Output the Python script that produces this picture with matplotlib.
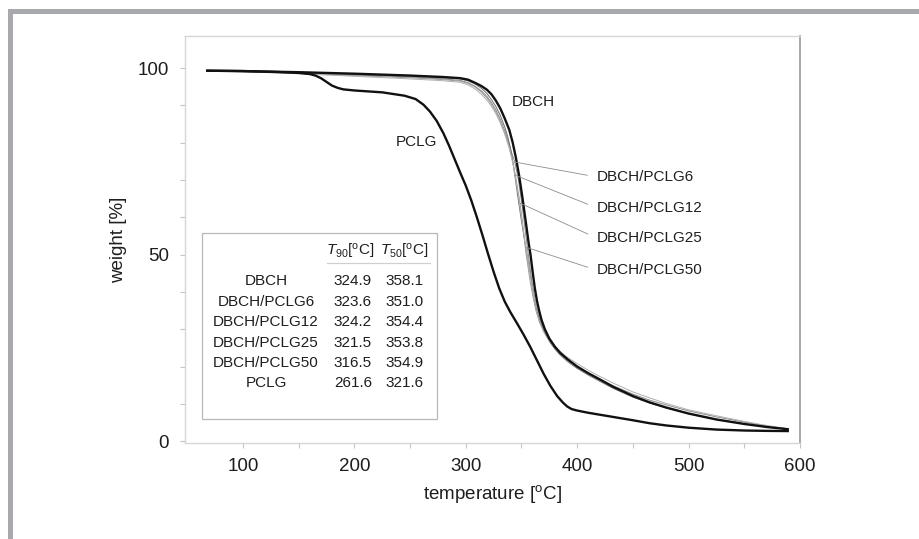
import numpy as np
import matplotlib.pyplot as plt
from matplotlib.patches import Rectangle

plt.rcParams['font.family'] = ['Liberation Sans', 'DejaVu Sans']
plt.rcParams['mathtext.fontset'] = 'custom'
plt.rcParams['mathtext.rm'] = 'Liberation Sans'
plt.rcParams['mathtext.it'] = 'Liberation Sans:italic'

# TGA curves: temperature [oC] / weight [%]
t_dbch = [68, 100, 150, 200, 250, 280, 295, 302, 308, 314, 319, 323, 327, 331, 335, 339, 342,
          345, 348, 351, 354, 356.5, 358.1, 360, 362, 364, 366, 368, 371, 375, 380, 385, 392,
          400, 410, 420, 432, 450, 465, 480, 500, 525, 550, 570, 589]
w_dbch = [99.3, 99.2, 98.9, 98.5, 98.0, 97.6, 97.3, 96.9, 96.1, 95.2, 94.2, 93.0, 91.3, 89.2, 86.5, 83.5, 80.2,
          76.0, 71.0, 65.0, 58.5, 53.0, 50.0, 45.5, 41.0, 37.5, 34.8, 32.5, 30.0, 27.5, 25.3, 23.6, 21.8,
          20.0, 18.2, 16.6, 14.6, 12.1, 10.4, 9.0, 7.4, 5.8, 4.6, 3.8, 3.2]

t_p6 = [68, 100, 150, 200, 250, 280, 295, 302, 308, 314, 319, 323, 327, 331, 335, 338, 341,
        344, 347, 350, 353, 355.5, 357.5, 359.5, 361.5, 364, 367, 371, 375, 380, 385, 392,
        400, 410, 420, 432, 450, 465, 480, 500, 525, 550, 570, 589]
w_p6 = [99.3, 99.1, 98.7, 98.2, 97.6, 97.1, 96.7, 96.1, 95.2, 93.9, 92.4, 90.8, 88.8, 86.3, 83.2, 80.5, 77.5,
        74.8, 70.5, 64.5, 57.5, 51.5, 47.0, 42.5, 38.5, 35.0, 32.0, 29.3, 27.2, 25.1, 23.4, 21.6,
        19.9, 18.2, 16.7, 14.9, 12.6, 11.0, 9.7, 8.1, 6.5, 5.1, 4.1, 3.3]

t_p12 = [68, 100, 150, 200, 250, 280, 295, 302, 308, 314, 319, 323, 327, 331, 335, 338, 341,
         344, 347, 350, 353, 355, 357.5, 360, 362.5, 365, 368, 372, 376, 380, 385, 392,
         400, 410, 420, 432, 450, 465, 480, 500, 525, 550, 570, 589]
w_p12 = [99.3, 99.2, 98.8, 98.3, 97.8, 97.4, 97.1, 96.6, 95.8, 94.6, 93.2, 91.6, 89.7, 87.3, 84.2, 81.3, 77.3,
         71.3, 65.0, 59.0, 53.5, 50.0, 45.5, 41.0, 37.0, 34.0, 31.3, 28.5, 26.3, 24.7, 23.0, 21.2,
         19.5, 17.7, 16.1, 14.2, 11.8, 10.2, 8.9, 7.3, 5.8, 4.6, 3.8, 3.2]

t_p25 = [68, 100, 150, 200, 250, 280, 295, 302, 308, 314, 319, 323, 327, 331, 335, 339, 342,
         345, 348.7, 351, 352.5, 354, 356, 358, 360.5, 363, 366, 370, 375, 380, 385, 392,
         400, 410, 420, 432, 450, 465, 480, 500, 525, 550, 570, 589]
w_p25 = [99.3, 99.1, 98.6, 98.0, 97.4, 96.9, 96.5, 95.9, 95.0, 93.6, 92.0, 90.3, 88.2, 85.6, 82.5, 78.8, 75.2,
         70.5, 63.8, 58.5, 54.5, 50.5, 46.5, 42.5, 38.5, 35.0, 32.0, 29.3, 26.8, 24.8, 23.1, 21.2,
         19.5, 17.8, 16.2, 14.3, 11.9, 10.3, 9.0, 7.4, 5.9, 4.7, 3.9, 3.2]

t_p50 = [68, 100, 150, 200, 250, 280, 295, 302, 308, 314, 319, 323, 327, 331, 335, 339, 343,
         347, 350.5, 354, 356.5, 359, 361.5, 364.5, 368, 372, 377, 383, 390,
         400, 410, 420, 432, 450, 465, 480, 500, 525, 550, 570, 589]
w_p50 = [99.3, 99.0, 98.5, 97.8, 97.1, 96.6, 96.2, 95.5, 94.5, 93.0, 91.4, 89.8, 87.8, 85.3, 82.3, 78.6, 73.5,
         66.5, 59.0, 52.0, 47.0, 42.5, 38.5, 34.8, 31.6, 29.0, 26.6, 24.5, 22.7,
         20.8, 19.0, 17.4, 15.6, 13.2, 11.6, 10.1, 8.4, 6.8, 5.3, 4.2, 3.3]

t_pclg = [68, 100, 130, 150, 160, 165, 170, 175, 180, 185, 190, 200, 225, 245, 255, 262, 268,
          274, 280, 285, 290, 295, 300, 305, 310, 315, 320, 325, 330, 335, 340, 346, 352,
          358, 364, 370, 376, 382, 387, 391, 395, 400, 410, 420, 432, 450, 465, 480, 500,
          525, 550, 570, 589]
w_pclg = [99.3, 99.2, 98.95, 98.7, 98.4, 98.0, 97.3, 96.3, 95.3, 94.7, 94.3, 94.0, 93.5, 92.6, 91.7, 90.2, 88.3,
          85.8, 82.5, 79.2, 75.6, 72.0, 68.5, 64.5, 60.0, 55.2, 50.2, 45.4, 41.0, 37.4, 34.6, 31.6, 28.5,
          25.2, 21.6, 18.0, 14.8, 12.1, 10.4, 9.3, 8.6, 8.2, 7.6, 7.1, 6.5, 5.6, 4.8, 4.2, 3.6,
          3.1, 2.85, 2.75, 2.7]

# inset table
sample_names = ['DBCH', 'DBCH/PCLG6', 'DBCH/PCLG12', 'DBCH/PCLG25', 'DBCH/PCLG50', 'PCLG']
t90 = ['324.9', '323.6', '324.2', '321.5', '316.5', '261.6']
t50 = ['358.1', '351.0', '354.4', '353.8', '354.9', '321.6']

fig = plt.figure(figsize=(9.19, 5.39), dpi=100)
ax = fig.add_axes([0.2013, 0.1781, 0.6692, 0.7551])

thin = [(t_p6, w_p6, '#8a8a8a'), (t_p12, w_p12, '#6e6e6e'),
        (t_p25, w_p25, '#9a9a9a'), (t_p50, w_p50, '#b0b0b0')]
for t, w, c in thin:
    ax.plot(t, w, color=c, lw=0.7, zorder=2, solid_joinstyle='round')
ax.plot(t_dbch, w_dbch, color='#111111', lw=1.7, zorder=3, solid_joinstyle='round')
ax.plot(t_pclg, w_pclg, color='#111111', lw=1.7, zorder=3, solid_joinstyle='round')

ax.set_xlim(48, 600)
ax.set_ylim(-0.5, 108.6)
ax.set_xticks(np.arange(100, 601, 100))
ax.set_xticks(np.arange(150, 600, 100), minor=True)
ax.set_yticks([0, 50, 100])
ax.set_yticks(np.arange(10, 100, 10), minor=True)
ax.tick_params(which='both', direction='out', color='#c4c4c4', length=3.5, width=0.8,
               labelsize=13.5, labelcolor='#1e1e1e')
ax.tick_params(axis='x', pad=7)
ax.tick_params(axis='y', pad=8)
for side in ['left', 'top', 'bottom']:
    ax.spines[side].set_color('#d6d6d6')
    ax.spines[side].set_linewidth(1.0)
ax.spines['right'].set_color('#a0a0a0')
ax.spines['right'].set_linewidth(1.3)

ax.set_xlabel(r'temperature [$^{\mathrm{o}}$C]', fontsize=13.5, color='#1e1e1e', labelpad=6)
ax.set_ylabel('weight [%]', fontsize=13.5, color='#1e1e1e', labelpad=8)

# curve labels
ax.text(361, 90.9, 'DBCH', fontsize=11, color='#1e1e1e', ha='center', va='center')
ax.text(256, 80.2, 'PCLG', fontsize=11, color='#1e1e1e', ha='center', va='center')
blend_labels = ['DBCH/PCLG6', 'DBCH/PCLG12', 'DBCH/PCLG25', 'DBCH/PCLG50']
label_y = [70.8, 62.5, 54.4, 45.8]
touch = [(344.2, 74.8), (344.2, 71.3), (348.7, 63.8), (354.0, 52.0)]
for name, ly, xy in zip(blend_labels, label_y, touch):
    ax.annotate(name, xy=xy, xytext=(417.8, ly), fontsize=11, color='#1e1e1e',
                ha='left', va='center',
                arrowprops=dict(arrowstyle='-', color='#8c8c8c', lw=0.6,
                                relpos=(0, 0.5), shrinkA=5, shrinkB=0))

# table inset (axes fraction)
ax.add_patch(Rectangle((0.0276, 0.059), 0.3822, 0.457, transform=ax.transAxes,
                       facecolor='white', edgecolor='#b8b8b8', lw=0.9, zorder=4))
ax.text(0.2683, 0.4693, r'$T_{90}$[$^{\mathrm{o}}$C]', transform=ax.transAxes,
        fontsize=11, ha='center', va='center', color='#1e1e1e', zorder=5)
ax.text(0.3569, 0.4693, r'$T_{50}$[$^{\mathrm{o}}$C]', transform=ax.transAxes,
        fontsize=11, ha='center', va='center', color='#1e1e1e', zorder=5)
ax.plot([0.2309, 0.3984], [0.4423, 0.4423], transform=ax.transAxes,
        color='#d0d0d0', lw=0.9, zorder=5)
row_y = [0.398, 0.3464, 0.2973, 0.2457, 0.1966, 0.1474]
for name, a, b, yy in zip(sample_names, t90, t50, row_y):
    ax.text(0.1317, yy, name, transform=ax.transAxes, fontsize=11, ha='center',
            va='center', color='#1e1e1e', zorder=5)
    ax.text(0.2732, yy, a, transform=ax.transAxes, fontsize=11, ha='center',
            va='center', color='#1e1e1e', zorder=5)
    ax.text(0.3577, yy, b, transform=ax.transAxes, fontsize=11, ha='center',
            va='center', color='#1e1e1e', zorder=5)

# grey frame of the figure panel
fig.add_artist(Rectangle((8 / 919, (539 - 14) / 539), 1, 5 / 539, transform=fig.transFigure,
                         facecolor='#a7a9ac', edgecolor='none'))
fig.add_artist(Rectangle((8 / 919, 0), 5 / 919, (539 - 9) / 539, transform=fig.transFigure,
                         facecolor='#a7a9ac', edgecolor='none'))

fig.savefig('out.png', dpi=100)
